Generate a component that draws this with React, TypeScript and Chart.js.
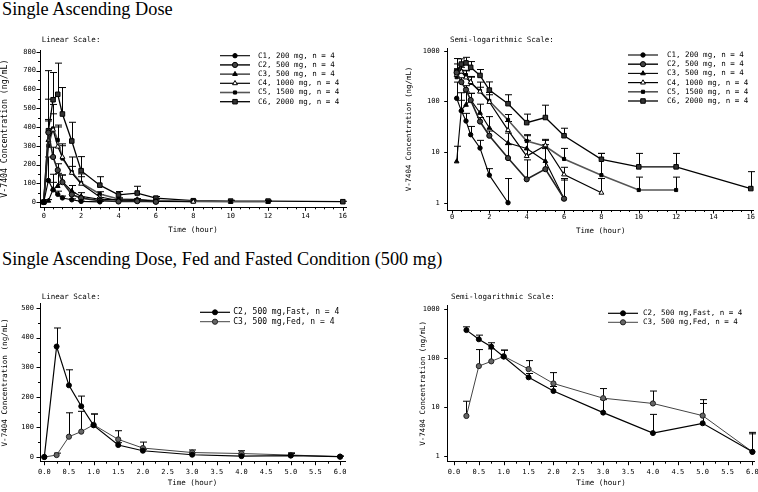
import React, { useEffect, useRef } from 'react';
import { Chart, registerables } from 'chart.js';

Chart.register(...registerables);

const MONO = '"DejaVu Sans Mono", "Liberation Mono", monospace';
const SERIF = '"Liberation Serif", "Times New Roman", serif';

// ---------------- data ----------------
const TIME_SAD = [0, 0.25, 0.5, 0.75, 1, 1.5, 2, 3, 4, 5, 6, 8, 10, 12, 16];
const TIME_FF = [0, 0.25, 0.5, 0.75, 1, 1.5, 2, 3, 4, 5, 6];

const C1_MEAN = [0, 115, 65, 41, 22, 12, 3.5, 1];
const C1_UP = [0, 240, 105, 58, 32, 17, 4.7, 3];
const C2_MEAN = [0, 370, 240, 170, 106, 40, 21, 7.6, 2.9, 4.6, 1.2];
const C2_UP = [0, 432, 292, 204, 144, 48, 26, 14, 7, 11.7, 2.8];
const C3_MEAN = [0, 6.5, 68, 85, 108, 59, 30, 15, 11.7, 6.6, 1.2];
const C3_UP = [0, 13, 148, 153, 144, 88, 50, 23.6, 21, 14, 3];
const C4_MEAN = [0, 330, 385, 295, 240, 155, 97, 27, 8.3, 13.5, 3.6, 1.57];
const C4_UP = [0, 548, 470, 400, 300, 190, 135, 40, 17, 17.8, 5, 3];
const C5_MEAN = [0, 300, 392, 330, 232, 160, 102, 43, 16.5, 13, 7.3, 3.5, 1.78, 1.78];
const C5_UP = [0, 440, 520, 410, 310, 240, 150, 55, 22, 17, 11.8, 9.4, 3.2, 3.2];
const C6_MEAN = [0, 380, 545, 574, 469, 325, 167, 90, 38, 48, 21, 7.2, 5.1, 5.1, 1.9];
const C6_UP = [0, 700, 690, 740, 610, 425, 242, 135, 56, 84, 29.5, 9.4, 9.4, 9.4, 4.1];

const SAD_LABELS = [
  'C1, 200 mg, n = 4',
  'C2, 500 mg, n = 4',
  'C3, 500 mg, n = 4',
  'C4, 1000 mg, n = 4',
  'C5, 1500 mg, n = 4',
  'C6, 2000 mg, n = 4',
];
const FF_LABELS = ['C2, 500 mg,Fast, n = 4', 'C3, 500 mg,Fed, n = 4'];

const SAD_X_TICKS = [0, 2, 4, 6, 8, 10, 12, 14, 16];
const SAD_Y_LIN_TICKS = [0, 100, 200, 300, 400, 500, 600, 700, 800];
const FF_X_TICKS = [0, 0.5, 1, 1.5, 2, 2.5, 3, 3.5, 4, 4.5, 5, 5.5, 6];
const FF_Y_LIN_TICKS = [0, 100, 200, 300, 400, 500];
const LOG_Y_TICKS = [1, 10, 100, 1000];

const Y_TITLE = 'V-7404 Concentration (ng/mL)';
const X_TITLE = 'Time (hour)';
const TITLE_1 = 'Single Ascending Dose';
const TITLE_2 = 'Single Ascending Dose, Fed and Fasted Condition (500 mg)';

// ---------------- styles ----------------
type Mk = { shape: 'circle' | 'triangle' | 'rect'; r: number; fill: string; stroke: string; line: string; lw: number };

const SAD_STYLE: Mk[] = [
  { shape: 'circle', r: 2.2, fill: '#000', stroke: '#000', line: '#000', lw: 1.1 },
  { shape: 'circle', r: 2.6, fill: '#444', stroke: '#000', line: '#222', lw: 1.6 },
  { shape: 'triangle', r: 2.7, fill: '#000', stroke: '#000', line: '#000', lw: 1.1 },
  { shape: 'triangle', r: 2.8, fill: '#fff', stroke: '#000', line: '#000', lw: 1.2 },
  { shape: 'rect', r: 2.2, fill: '#000', stroke: '#000', line: '#555', lw: 1.6 },
  { shape: 'rect', r: 3.2, fill: '#333', stroke: '#000', line: '#000', lw: 1.3 },
];
const FF_STYLE: Mk[] = [
  { shape: 'circle', r: 2.5, fill: '#000', stroke: '#000', line: '#000', lw: 1.2 },
  { shape: 'circle', r: 2.6, fill: '#666', stroke: '#222', line: '#444', lw: 1 },
];

type Series = { label: string; mean: number[]; up: number[]; st: Mk };

const SAD_SERIES: Series[] = [
  { label: SAD_LABELS[0], mean: C1_MEAN, up: C1_UP, st: SAD_STYLE[0] },
  { label: SAD_LABELS[1], mean: C2_MEAN, up: C2_UP, st: SAD_STYLE[1] },
  { label: SAD_LABELS[2], mean: C3_MEAN, up: C3_UP, st: SAD_STYLE[2] },
  { label: SAD_LABELS[3], mean: C4_MEAN, up: C4_UP, st: SAD_STYLE[3] },
  { label: SAD_LABELS[4], mean: C5_MEAN, up: C5_UP, st: SAD_STYLE[4] },
  { label: SAD_LABELS[5], mean: C6_MEAN, up: C6_UP, st: SAD_STYLE[5] },
];
const FF_SERIES: Series[] = [
  { label: FF_LABELS[0], mean: C2_MEAN, up: C2_UP, st: FF_STYLE[0] },
  { label: FF_LABELS[1], mean: C3_MEAN, up: C3_UP, st: FF_STYLE[1] },
];

type PanelSpec = {
  left: number; top: number; width: number; height: number;
  log: boolean; time: number[]; series: Series[];
  xMin: number; xMax: number; yMin: number; yMax: number;
  xMajor: number[]; xMinorParts: number; xDigits: number;
  yMajor: number[]; yMinorParts: number;
  pad: { left: number; top: number; right: number; bottom: number };
  yWidth: number; xHeight: number; yLabelPad: number; xLabelPad: number;
  yTitleSize: number; xTitlePad: number;
  label: string; labelX: number; labelY: number;
  leg: { x1: number; x2: number; tx: number; y0: number; dy: number; size: number };
};

const PANELS: PanelSpec[] = [
  {
    left: 0, top: 30, width: 380, height: 212, log: false, time: TIME_SAD, series: SAD_SERIES,
    xMin: -0.2, xMax: 16.17, yMin: -28, yMax: 810,
    xMajor: SAD_X_TICKS, xMinorParts: 4, xDigits: 0, yMajor: SAD_Y_LIN_TICKS, yMinorParts: 2,
    pad: { left: 0, top: 20, right: 34, bottom: 0 }, yWidth: 40, xHeight: 34.7, yLabelPad: 4, xLabelPad: 5.1,
    yTitleSize: 8.2, xTitlePad: 7.5, label: 'Linear Scale:', labelX: 41.7, labelY: 10,
    leg: { x1: 220, x2: 250, tx: 258, y0: 25.7, dy: 9.2, size: 7.5 },
  },
  {
    left: 380, top: 30, width: 378, height: 212, log: true, time: TIME_SAD, series: SAD_SERIES,
    xMin: -0.23, xMax: 16.16, yMin: 0.718, yMax: 1130,
    xMajor: SAD_X_TICKS, xMinorParts: 4, xDigits: 0, yMajor: LOG_Y_TICKS, yMinorParts: 1,
    pad: { left: 25, top: 18, right: 4, bottom: 0 }, yWidth: 42.7, xHeight: 32, yLabelPad: 8, xLabelPad: 3.1,
    yTitleSize: 7.4, xTitlePad: 6.5, label: 'Semi-logarithmic Scale:', labelX: 70, labelY: 10,
    leg: { x1: 248, x2: 278, tx: 287, y0: 25, dy: 9.2, size: 7.5 },
  },
  {
    left: 0, top: 280, width: 380, height: 212, log: false, time: TIME_FF, series: FF_SERIES,
    xMin: -0.087, xMax: 6.1, yMin: -15.7, yMax: 514.7,
    xMajor: FF_X_TICKS, xMinorParts: 2, xDigits: 1, yMajor: FF_Y_LIN_TICKS, yMinorParts: 2,
    pad: { left: 0, top: 23.3, right: 35, bottom: 0 }, yWidth: 40, xHeight: 30.3, yLabelPad: 6, xLabelPad: 5.8,
    yTitleSize: 7.6, xTitlePad: 4.5, label: 'Linear Scale:', labelX: 41.7, labelY: 16.7,
    leg: { x1: 200, x2: 230, tx: 233.3, y0: 32.3, dy: 9.4, size: 8 },
  },
  {
    left: 380, top: 280, width: 378, height: 212, log: true, time: TIME_FF, series: FF_SERIES,
    xMin: -0.126, xMax: 6.04, yMin: 0.754, yMax: 1207,
    xMajor: FF_X_TICKS, xMinorParts: 2, xDigits: 1, yMajor: LOG_Y_TICKS, yMinorParts: 1,
    pad: { left: 38.7, top: 25, right: 2, bottom: 0 }, yWidth: 29, xHeight: 30.3, yLabelPad: 8, xLabelPad: 5.8,
    yTitleSize: 7.4, xTitlePad: 4.5, label: 'Semi-logarithmic Scale:', labelX: 71, labelY: 17.3,
    leg: { x1: 228, x2: 258, tx: 263, y0: 33.3, dy: 9, size: 7.5 },
  },
];

// ---------------- helpers ----------------
function withMinor(majors: number[], parts: number): number[] {
  const out: number[] = [];
  for (let i = 0; i < majors.length; i++) {
    out.push(majors[i]);
    if (i < majors.length - 1) {
      for (let k = 1; k < parts; k++) out.push(majors[i] + ((majors[i + 1] - majors[i]) * k) / parts);
    }
  }
  return out;
}
const isMajor = (majors: number[], v: number) => majors.some((m) => Math.abs(m - v) < 1e-9);

function drawMarker(ctx: CanvasRenderingContext2D, st: Mk, x: number, y: number) {
  ctx.save();
  ctx.fillStyle = st.fill;
  ctx.strokeStyle = st.stroke;
  ctx.lineWidth = 1;
  ctx.beginPath();
  if (st.shape === 'circle') {
    ctx.arc(x, y, st.r, 0, Math.PI * 2);
  } else if (st.shape === 'rect') {
    const h = st.r * Math.SQRT1_2;
    ctx.rect(x - h, y - h, 2 * h, 2 * h);
  } else {
    for (let k = 0; k < 3; k++) {
      const a = (k * 2 * Math.PI) / 3;
      const px = x + Math.sin(a) * st.r;
      const py = y - Math.cos(a) * st.r;
      if (k === 0) ctx.moveTo(px, py);
      else ctx.lineTo(px, py);
    }
    ctx.closePath();
  }
  ctx.fill();
  ctx.stroke();
  ctx.restore();
}

function decorPlugin(spec: PanelSpec) {
  return {
    id: 'decor',
    beforeDatasetsDraw(chart: any) {
      const ctx: CanvasRenderingContext2D = chart.ctx;
      const ys = chart.scales.y;
      ctx.save();
      ctx.strokeStyle = '#000';
      ctx.lineWidth = 1;
      chart.data.datasets.forEach((ds: any, i: number) => {
        const meta = chart.getDatasetMeta(i);
        meta.data.forEach((el: any, j: number) => {
          const raw = ds.data[j];
          if (raw.u == null || raw.u <= raw.y) return;
          const x = Math.round(el.x) + 0.5;
          const y1 = ys.getPixelForValue(raw.u);
          ctx.beginPath();
          ctx.moveTo(x, el.y);
          ctx.lineTo(x, y1);
          ctx.moveTo(x - 3.5, y1);
          ctx.lineTo(x + 3.5, y1);
          ctx.stroke();
        });
      });
      ctx.restore();
    },
    afterDraw(chart: any) {
      const ctx: CanvasRenderingContext2D = chart.ctx;
      const xs = chart.scales.x;
      const ys = chart.scales.y;
      ctx.save();
      ctx.strokeStyle = '#000';
      ctx.lineWidth = 1;
      ctx.beginPath();
      xs.ticks.forEach((t: any) => {
        const px = Math.round(xs.getPixelForValue(t.value)) + 0.5;
        const len = t.label ? 3.5 : 2;
        ctx.moveTo(px, xs.top);
        ctx.lineTo(px, xs.top + len);
      });
      ys.ticks.forEach((t: any) => {
        const py = Math.round(ys.getPixelForValue(t.value)) + 0.5;
        const len = t.label ? 3.5 : 2;
        ctx.moveTo(ys.right, py);
        ctx.lineTo(ys.right - len, py);
      });
      ctx.stroke();

      ctx.fillStyle = '#000';
      ctx.textBaseline = 'middle';
      ctx.textAlign = 'left';
      ctx.font = `7.5px ${MONO}`;
      ctx.fillText(spec.label, spec.labelX, spec.labelY);

      const L = spec.leg;
      ctx.font = `${L.size}px ${MONO}`;
      spec.series.forEach((s, k) => {
        const y = L.y0 + k * L.dy;
        ctx.strokeStyle = s.st.line;
        ctx.lineWidth = s.st.lw;
        ctx.beginPath();
        ctx.moveTo(L.x1, y);
        ctx.lineTo(L.x2, y);
        ctx.stroke();
        drawMarker(ctx, s.st, (L.x1 + L.x2) / 2, y);
        ctx.fillStyle = '#000';
        ctx.fillText(s.label, L.tx, y);
      });
      ctx.restore();
    },
  };
}

function buildConfig(spec: PanelSpec): any {
  const datasets = spec.series.map((s) => {
    const pts = s.mean
      .map((v, i) => ({ x: spec.time[i], y: v, u: s.up[i] }))
      .filter((p) => !spec.log || p.y > 0);
    return {
      label: s.label,
      data: pts,
      borderColor: s.st.line,
      borderWidth: s.st.lw,
      pointStyle: s.st.shape,
      pointRadius: s.st.r,
      pointHoverRadius: s.st.r,
      pointBackgroundColor: s.st.fill,
      pointBorderColor: s.st.stroke,
      pointBorderWidth: 1,
      tension: 0,
      fill: false,
      clip: false,
    };
  });
  const xTicks = withMinor(spec.xMajor, spec.xMinorParts);
  const yTicks = withMinor(spec.yMajor, spec.yMinorParts);
  return {
    type: 'line',
    data: { datasets },
    plugins: [decorPlugin(spec)],
    options: {
      responsive: false,
      animation: false,
      devicePixelRatio: 1,
      events: [],
      layout: { padding: spec.pad },
      plugins: { legend: { display: false }, title: { display: false }, tooltip: { enabled: false } },
      scales: {
        x: {
          type: 'linear',
          min: spec.xMin,
          max: spec.xMax,
          bounds: 'data',
          grid: { display: false, drawTicks: false },
          border: { display: true, color: '#000', width: 1 },
          ticks: {
            autoSkip: false,
            maxRotation: 0,
            minRotation: 0,
            padding: spec.xLabelPad,
            color: '#000',
            font: { family: MONO, size: 7 },
            callback: (v: number) => (isMajor(spec.xMajor, v) ? v.toFixed(spec.xDigits) : ''),
          },
          title: {
            display: true,
            text: X_TITLE,
            color: '#000',
            font: { family: MONO, size: 7.5 },
            padding: { top: 0, bottom: spec.xTitlePad },
          },
          afterBuildTicks: (s: any) => {
            s.ticks = xTicks.map((v) => ({ value: v }));
          },
          afterFit: (s: any) => {
            s.height = spec.xHeight;
            s.paddingLeft = 0;
            s.paddingRight = 0;
          },
        },
        y: {
          type: spec.log ? 'logarithmic' : 'linear',
          min: spec.yMin,
          max: spec.yMax,
          bounds: 'data',
          grid: { display: false, drawTicks: false },
          border: { display: true, color: '#000', width: 1 },
          ticks: {
            autoSkip: false,
            padding: spec.yLabelPad,
            color: '#000',
            font: { family: MONO, size: 7 },
            callback: (v: number) => (isMajor(spec.yMajor, v) ? String(v) : ''),
          },
          title: {
            display: true,
            text: Y_TITLE,
            color: '#000',
            font: { family: MONO, size: spec.yTitleSize },
            padding: { top: 0, bottom: 0 },
          },
          afterBuildTicks: (s: any) => {
            s.ticks = yTicks.map((v) => ({ value: v }));
          },
          afterFit: (s: any) => {
            s.width = spec.yWidth;
            s.paddingTop = 0;
            s.paddingBottom = 0;
          },
        },
      },
    },
  };
}

function Panel({ spec }: { spec: PanelSpec }) {
  const ref = useRef<HTMLCanvasElement | null>(null);
  useEffect(() => {
    if (!ref.current) return;
    const chart = new Chart(ref.current, buildConfig(spec));
    return () => chart.destroy();
  }, [spec]);
  return (
    <canvas
      ref={ref}
      width={spec.width}
      height={spec.height}
      style={{ position: 'absolute', left: spec.left, top: spec.top, width: spec.width, height: spec.height }}
    />
  );
}

const titleStyle = (top: number): React.CSSProperties => ({
  position: 'absolute',
  left: 2,
  top,
  fontFamily: SERIF,
  fontSize: 18.3,
  lineHeight: '18.3px',
  whiteSpace: 'nowrap',
  color: '#000',
});

export default function App() {
  return (
    <div
      style={{
        position: 'fixed',
        left: 0,
        top: 0,
        width: 758,
        height: 492,
        background: '#fff',
        overflow: 'hidden',
      }}
    >
      <div style={titleStyle(0)}>{TITLE_1}</div>
      <div style={titleStyle(250)}>{TITLE_2}</div>
      {PANELS.map((p, i) => (
        <Panel key={i} spec={p} />
      ))}
    </div>
  );
}
